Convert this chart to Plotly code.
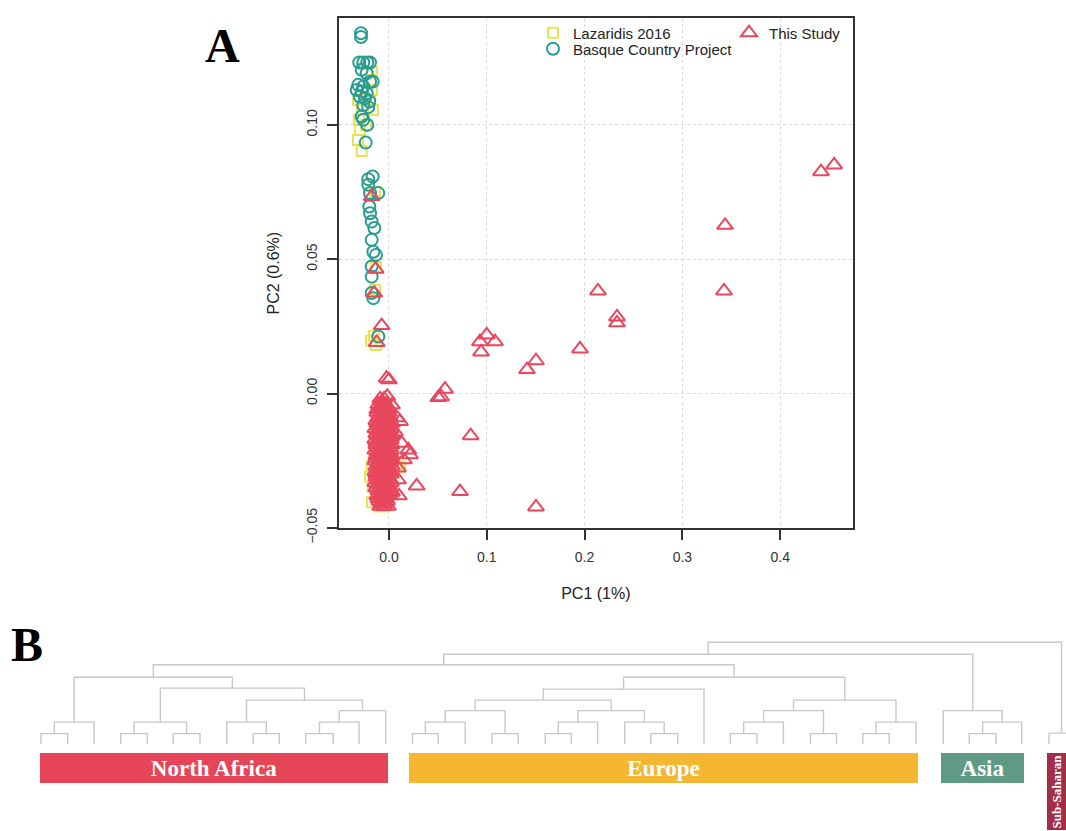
import plotly.graph_objects as go

W, H = 1066, 831          # design size (pixel positions below refer to this)
FIG_H = 845               # layout height (compensates the vertical squeeze seen in the renderer)

# ---------------- Panel A data (PC1, PC2) ----------------
laz_x = [-0.0279, -0.0317, -0.0297, -0.0307, -0.0276, -0.0194, -0.0174, -0.0184, -0.0174, -0.0317,
         -0.0164, -0.0235, -0.0143, -0.0133, -0.0143, -0.0153, -0.0184, -0.0133,
         -0.0092, -0.0174, -0.0177, -0.0194, -0.0167, 0.0079, 0.0112, 0.0041, -0.0010, -0.0092, -0.0041]
laz_y = [0.0903, 0.0944, 0.0981, 0.1019, 0.1055, 0.1093, 0.1130, 0.1167, 0.1197, 0.1093,
         0.1055, 0.1000, 0.0750, 0.0471, 0.0386, 0.0215, 0.0196, 0.0181,
         -0.0420, -0.0405, -0.0272, -0.0309, -0.0346, -0.0272, -0.0273, -0.0247, -0.0383, -0.0396, -0.0420]

basque_x = [-0.0286, -0.0286, -0.0304, -0.0263, -0.0222, -0.0194, -0.0279, -0.0228, -0.0194, -0.0314,
            -0.0263, -0.0330, -0.0279, -0.0228, -0.0297, -0.0245, -0.0201, -0.0263, -0.0212, -0.0279,
            -0.0263, -0.0222, -0.0238, -0.0167, -0.0212, -0.0167, -0.0110, -0.0212, -0.0194, -0.0201,
            -0.0194, -0.0177, -0.0150, -0.0177, -0.0160, -0.0133, -0.0177, -0.0177, -0.0177, -0.0160,
            -0.0109]
basque_y = [0.1341, 0.1327, 0.1232, 0.1232, 0.1232, 0.1232, 0.1205, 0.1192, 0.1161, 0.1149,
            0.1143, 0.1130, 0.1124, 0.1118, 0.1105, 0.1099, 0.1087, 0.1074, 0.1066, 0.1031,
            0.1019, 0.1000, 0.0934, 0.1161, 0.0798, 0.0808, 0.0746, 0.0777, 0.0746, 0.0696,
            0.0671, 0.0640, 0.0616, 0.0572, 0.0528, 0.0516, 0.0473, 0.0435, 0.0374, 0.0355,
            0.0212]

# "This Study": outliers, points along the PC2 axis, the spread to the right of the core, then the dense core
study_x = [0.4551, 0.4417, 0.3436, 0.3425, 0.2137, 0.2331, 0.2331, 0.1953, 0.1503, 0.1411,
           0.0999, 0.0930, 0.1084, 0.0941, 0.0573, 0.0504, 0.0532, 0.0835, 0.0726, 0.1503,
           0.0283, 0.0102,
           -0.0177, -0.0136, -0.0150, -0.0075, -0.0126, -0.0024, 0.0000, -0.0017,
           0.0112, 0.0082, 0.0031, 0.0061, 0.0130, 0.0197, 0.0215, 0.0153, 0.0092, 0.0092, 0.0031,
           -0.009, -0.005,
           -0.011, -0.007, -0.003,
           -0.012, -0.008, -0.004, -0.001,
           -0.010, -0.006, -0.002,
           -0.013, -0.009, -0.005, -0.001,
           -0.011, -0.007, -0.003, 0.001,
           -0.012, -0.008, -0.004, 0.000,
           -0.010, -0.006, -0.002, 0.002,
           -0.013, -0.009, -0.005, -0.001,
           -0.011, -0.007, -0.003, 0.001,
           -0.012, -0.008, -0.004, 0.000,
           -0.013, -0.009, -0.005, -0.001, 0.002,
           -0.011, -0.007, -0.003, 0.001,
           -0.012, -0.008, -0.004, 0.000,
           -0.013, -0.009, -0.005, -0.001, 0.002,
           -0.011, -0.007, -0.003, 0.001,
           -0.012, -0.008, -0.004, 0.000,
           -0.011, -0.007, -0.003, 0.001,
           -0.012, -0.008, -0.004, 0.000,
           -0.010, -0.006, -0.002,
           -0.009, -0.005, -0.001]
study_y = [0.0851, 0.0826, 0.0626, 0.0382, 0.0382, 0.0285, 0.0263, 0.0166, 0.0122, 0.0089,
           0.0218, 0.0193, 0.0193, 0.0155, 0.0016, -0.0015, -0.0012, -0.0157, -0.0365, -0.0422,
           -0.0344, -0.0381,
           0.0733, 0.0463, 0.0374, 0.0253, 0.0190, 0.0057, 0.0051, -0.0011,
           -0.0104, -0.0090, -0.0042, -0.0143, -0.0185, -0.0210, -0.0228, -0.0247, -0.0277, -0.0321, -0.0366,
           -0.002, -0.002,
           -0.004, -0.004, -0.004,
           -0.006, -0.006, -0.006, -0.006,
           -0.008, -0.008, -0.008,
           -0.010, -0.010, -0.010, -0.010,
           -0.012, -0.012, -0.012, -0.012,
           -0.014, -0.014, -0.014, -0.014,
           -0.016, -0.016, -0.016, -0.016,
           -0.018, -0.018, -0.018, -0.018,
           -0.020, -0.020, -0.020, -0.020,
           -0.022, -0.022, -0.022, -0.022,
           -0.024, -0.024, -0.024, -0.024, -0.024,
           -0.026, -0.026, -0.026, -0.026,
           -0.028, -0.028, -0.028, -0.028,
           -0.030, -0.030, -0.030, -0.030, -0.030,
           -0.032, -0.032, -0.032, -0.032,
           -0.034, -0.034, -0.034, -0.034,
           -0.036, -0.036, -0.036, -0.036,
           -0.038, -0.038, -0.038, -0.038,
           -0.040, -0.040, -0.040,
           -0.042, -0.042, -0.042]
# more samples in the dense core (interleaved rows)
study_core_x = [-0.007,
                -0.009, -0.005, -0.001,
                -0.012, -0.008, -0.004, 0.000,
                -0.011, -0.007, -0.003, 0.001,
                -0.012, -0.008, -0.004, 0.000, 0.003,
                -0.014, -0.010, -0.006, -0.002, 0.002,
                -0.013, -0.009, -0.005, -0.001, 0.003,
                -0.014, -0.010, -0.006, -0.002, 0.002,
                -0.013, -0.009, -0.005, -0.001, 0.003,
                -0.014, -0.010, -0.006, -0.002, 0.002,
                -0.013, -0.009, -0.005, -0.001, 0.003,
                -0.014, -0.010, -0.006, -0.002, 0.002,
                -0.013, -0.009, -0.005, -0.001, 0.003,
                -0.014, -0.010, -0.006, -0.002, 0.002,
                -0.013, -0.009, -0.005, -0.001,
                -0.014, -0.010, -0.006, -0.002, 0.002,
                -0.013, -0.009, -0.005, -0.001,
                -0.010, -0.006, -0.002, 0.002,
                -0.011, -0.007, -0.003,
                -0.008, -0.004]
study_core_y = [-0.003,
                -0.005, -0.005, -0.005,
                -0.007, -0.007, -0.007, -0.007,
                -0.009, -0.009, -0.009, -0.009,
                -0.011, -0.011, -0.011, -0.011, -0.011,
                -0.013, -0.013, -0.013, -0.013, -0.013,
                -0.015, -0.015, -0.015, -0.015, -0.015,
                -0.017, -0.017, -0.017, -0.017, -0.017,
                -0.019, -0.019, -0.019, -0.019, -0.019,
                -0.021, -0.021, -0.021, -0.021, -0.021,
                -0.023, -0.023, -0.023, -0.023, -0.023,
                -0.025, -0.025, -0.025, -0.025, -0.025,
                -0.027, -0.027, -0.027, -0.027, -0.027,
                -0.029, -0.029, -0.029, -0.029, -0.029,
                -0.031, -0.031, -0.031, -0.031,
                -0.033, -0.033, -0.033, -0.033, -0.033,
                -0.035, -0.035, -0.035, -0.035,
                -0.037, -0.037, -0.037, -0.037,
                -0.039, -0.039, -0.039,
                -0.041, -0.041]

x_ticks = [0.0, 0.1, 0.2, 0.3, 0.4]
x_tick_labels = ["0.0", "0.1", "0.2", "0.3", "0.4"]
y_ticks = [-0.05, 0.0, 0.05, 0.10]
y_tick_labels = ["\u22120.05", "0.00", "0.05", "0.10"]

# ---------------- Panel B data (dendrogram) ----------------
leaf_pos = [41, 67.7, 94, 120.7, 147.3, 173.3, 200, 226.7, 253.3, 279.3, 305.7, 333.3, 359, 385.7,
            412.5, 438.2, 465.2, 491.9, 518.2, 545.3, 571.3, 597.6, 624.7, 650.7, 677.7, 704,
            730.4, 757, 783.4, 810.5, 836.5, 862.8, 889.2, 915.9,
            943.3, 969.3, 996, 1021.7, 1049, 1074]
# nodes: (merge height, left, right); ints are leaf indices
north_africa_tree = (67, (22, (10.5, 0, 1), 2),
                     (56, (22, (10.5, 3, 4), (10.5, 5, 6)),
                      (44, (22, 7, (10.5, 8, 9)), (33.5, (22, (10.5, 10, 11), 12), 13))))
europe_tree = (67, (55, (44, (33.5, (22, (10.5, 14, 15), 16), (10.5, 17, 18)),
                        (33.5, (22, (10.5, 19, 20), 21), (22, 22, (10.5, 23, 24)))), 25),
               (44, (33.5, (22, (10.5, 26, 27), 28), (10.5, 29, 30)), (22, (10.5, 31, 32), 33)))
asia_tree = (33.5, 34, (22, (10.5, 35, 36), 37))
subsaharan_tree = (11, 38, 39)
root_tree = (102, (90, (79.5, north_africa_tree, europe_tree), asia_tree), subsaharan_tree)

region_names = ["North Africa", "Europe", "Asia"]
region_start = [40, 409, 941]
region_end = [388, 918, 1024]
region_colors = ["#E64558", "#F5B631", "#5E9A85"]
ss_name = "Sub-Saharan"
ss_start, ss_end = 1047, 1066
ss_color = "#A32E4A"

RED = "#E8475D"
TEAL = "#2A9D92"
YELLOW = "rgba(228,224,70,0.9)"
FONT = "Liberation Sans, Arial, Helvetica, sans-serif"
SERIF = "Liberation Serif, Times New Roman, serif"

fig = go.Figure()

fig.add_trace(go.Scatter(x=laz_x, y=laz_y, mode="markers", name="Lazaridis 2016",
                         marker=dict(symbol="square-open", size=10, color=YELLOW, line=dict(width=2)),
                         legend="legend", xaxis="x", yaxis="y"))
fig.add_trace(go.Scatter(x=basque_x, y=basque_y, mode="markers", name="Basque Country Project",
                         marker=dict(symbol="circle-open", size=12, color=TEAL, line=dict(width=2)),
                         legend="legend2", xaxis="x", yaxis="y"))
fig.add_trace(go.Scatter(x=study_x + study_core_x, y=study_y + study_core_y, mode="markers", name="This Study",
                         marker=dict(symbol="triangle-up-open", size=14, color=RED, line=dict(width=2)),
                         legend="legend3", xaxis="x", yaxis="y"))

# dendrogram segments computed from the tree
dx, dy = [], []


def walk(node):
    if isinstance(node, int):
        return leaf_pos[node], 0.0
    h, left, right = node
    xl, hl = walk(left)
    xr, hr = walk(right)
    dx.extend([xl, xl, xr, xr, None])
    dy.extend([hl, h, h, hr, None])
    return (xl + xr) / 2.0, h


walk(root_tree)
fig.add_trace(go.Scatter(x=dx, y=dy, mode="lines", line=dict(color="#c8c8c8", width=1.4),
                         hoverinfo="skip", showlegend=False, xaxis="x2", yaxis="y2"))

bar_top, bar_bottom, ss_bottom = -9, -39, -86
fig.add_trace(go.Bar(orientation="h", y=[(bar_top + bar_bottom) / 2] * len(region_names),
                     x=[e - s for s, e in zip(region_start, region_end)], base=region_start,
                     width=[bar_top - bar_bottom] * len(region_names),
                     marker=dict(color=region_colors, line=dict(width=0)),
                     text=region_names, textposition="inside", insidetextanchor="middle", textangle=0,
                     constraintext="none",
                     textfont=dict(family=SERIF, size=23, color="white", weight="bold"),
                     showlegend=False, hoverinfo="skip", xaxis="x2", yaxis="y2"))
fig.add_trace(go.Bar(orientation="h", y=[(bar_top + ss_bottom) / 2], x=[ss_end - ss_start], base=[ss_start],
                     width=[bar_top - ss_bottom], marker=dict(color=ss_color, line=dict(width=0)),
                     text=[ss_name], textposition="inside", insidetextanchor="middle", textangle=-90,
                     constraintext="none",
                     textfont=dict(family=SERIF, size=13, color="white", weight="bold"),
                     showlegend=False, hoverinfo="skip", xaxis="x2", yaxis="y2"))

axis_common = dict(showline=True, mirror=True, linecolor="#333", linewidth=1.5,
                   ticks="outside", ticklen=10, tickwidth=1.5, tickcolor="#333",
                   showgrid=True, griddash="dot", gridcolor="#dadada", gridwidth=1,
                   zeroline=False, tickfont=dict(family=FONT, size=14, color="#333"))

legend_common = dict(bgcolor="rgba(0,0,0,0)", font=dict(family=FONT, size=15, color="#222"),
                     xanchor="left", yanchor="middle", itemclick=False, itemdoubleclick=False,
                     itemwidth=30)


def py(p):
    """paper y for a pixel row of the 831-px design"""
    return 1 - p / H


fig.update_layout(
    width=W, height=FIG_H, autosize=False, margin=dict(l=0, r=0, t=0, b=0, pad=0),
    paper_bgcolor="white", plot_bgcolor="white", barmode="overlay",
    xaxis=dict(domain=[339 / W, 852.7 / W], range=[-0.0511, 0.4741], anchor="y",
               tickvals=x_ticks, ticktext=x_tick_labels, ticklabelstandoff=5,
               title=dict(text="PC1 (1%)", font=dict(family=FONT, size=16, color="#222"), standoff=24),
               **axis_common),
    yaxis=dict(domain=[py(529), py(18)], range=[-0.0502, 0.1398], anchor="x",
               tickvals=y_ticks, ticktext=y_tick_labels, tickangle=-90, ticklabelstandoff=5,
               title=dict(text="PC2 (0.6%)", font=dict(family=FONT, size=16, color="#222"), standoff=20),
               **axis_common),
    xaxis2=dict(domain=[0, 1], range=[0, W], anchor="y2", visible=False),
    yaxis2=dict(domain=[0, py(630)], range=[-86, 115], anchor="x2", visible=False),
    legend=dict(x=533 / W, y=py(33), **legend_common),
    legend2=dict(x=533 / W, y=py(49), **legend_common),
    legend3=dict(x=729 / W, y=py(33), **legend_common),
    annotations=[
        dict(text="A", x=222 / W, y=py(46), xref="paper", yref="paper", showarrow=False,
             xanchor="center", yanchor="middle", font=dict(family=SERIF, size=48, color="black", weight="bold")),
        dict(text="B", x=27 / W, y=py(645), xref="paper", yref="paper", showarrow=False,
             xanchor="center", yanchor="middle", font=dict(family=SERIF, size=48, color="black", weight="bold")),
    ],
)

page_css = ("var s=document.createElement('style');"
            "s.textContent='html,body{margin:0!important;padding:0!important;}';"
            "document.head.appendChild(s);")

fig.write_html("out.html", config={"displayModeBar": False, "responsive": False},
               post_script=page_css)
